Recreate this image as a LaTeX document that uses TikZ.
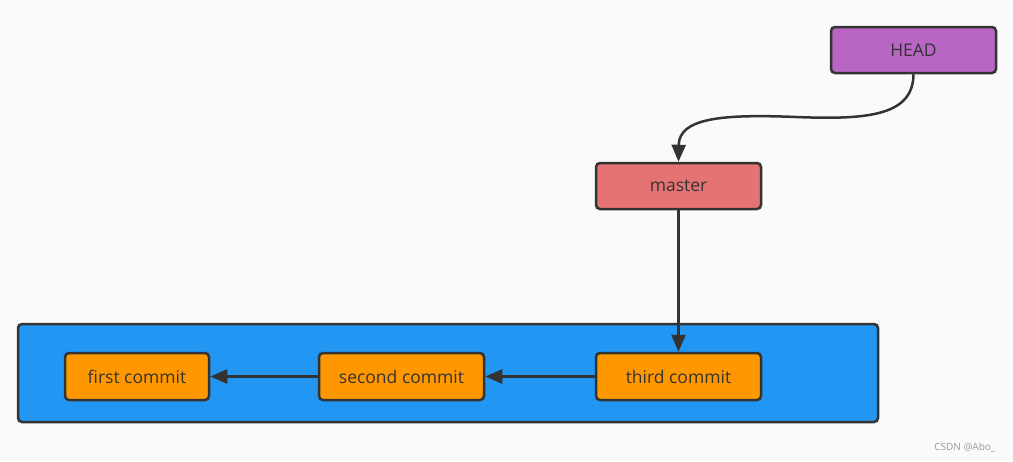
\documentclass[tikz,border=0pt]{standalone}
\usepackage{fontspec}
\setmainfont{Open Sans}
\usetikzlibrary{arrows.meta}
\definecolor{bg}{HTML}{FAFAFA}
\definecolor{edge}{HTML}{333333}
\definecolor{headc}{HTML}{B865C4}
\definecolor{masterc}{HTML}{E57373}
\definecolor{commitc}{HTML}{FF9800}
\definecolor{repoc}{HTML}{2196F3}
\definecolor{wmark}{HTML}{9A9A9A}
\tikzset{
  box/.style={draw=edge, line width=2.5pt, rounded corners=4pt, minimum height=46pt, inner sep=0pt, text=edge, font=\fontsize{17.5}{21}\selectfont},
  conn/.style={draw=edge, line width=2.5pt, -{Triangle[length=17pt,width=14pt]}},
}
\begin{document}
\begin{tikzpicture}[x=1pt,y=-1pt]
\fill[bg] (0,0) rectangle (1013,461);
\useasboundingbox (0,0) rectangle (1013,461);
\node[box, fill=repoc, minimum width=860pt, minimum height=98pt] (repo) at (448,373) {};
\node[box, fill=headc, minimum width=165pt] (head) at (913.5,50) {HEAD};
\node[box, fill=masterc, minimum width=165pt] (master) at (678.5,186) {master};
\node[box, fill=commitc, minimum width=144pt, minimum height=47pt] (c1) at (137,376.5) {first commit};
\node[box, fill=commitc, minimum width=165pt, minimum height=47pt] (c2) at (401.5,376.5) {second commit};
\node[box, fill=commitc, minimum width=165pt, minimum height=47pt] (c3) at (678.5,376.5) {third commit};
\coordinate (mid) at (796,117);
\draw[conn] (head.south) .. controls (913,115) and (870,120) .. (mid) .. controls (722,114) and (679,118) .. (master.north);
\draw[conn] (master.south) -- (c3.north);
\draw[conn] (c3.west) -- (c2.east);
\draw[conn] (c2.west) -- (c1.east);
\node[text=wmark, font=\fontsize{10}{12}\selectfont, anchor=east] (wm) at (999,447) {CSDN @Abo\_};
\end{tikzpicture}
\end{document}
